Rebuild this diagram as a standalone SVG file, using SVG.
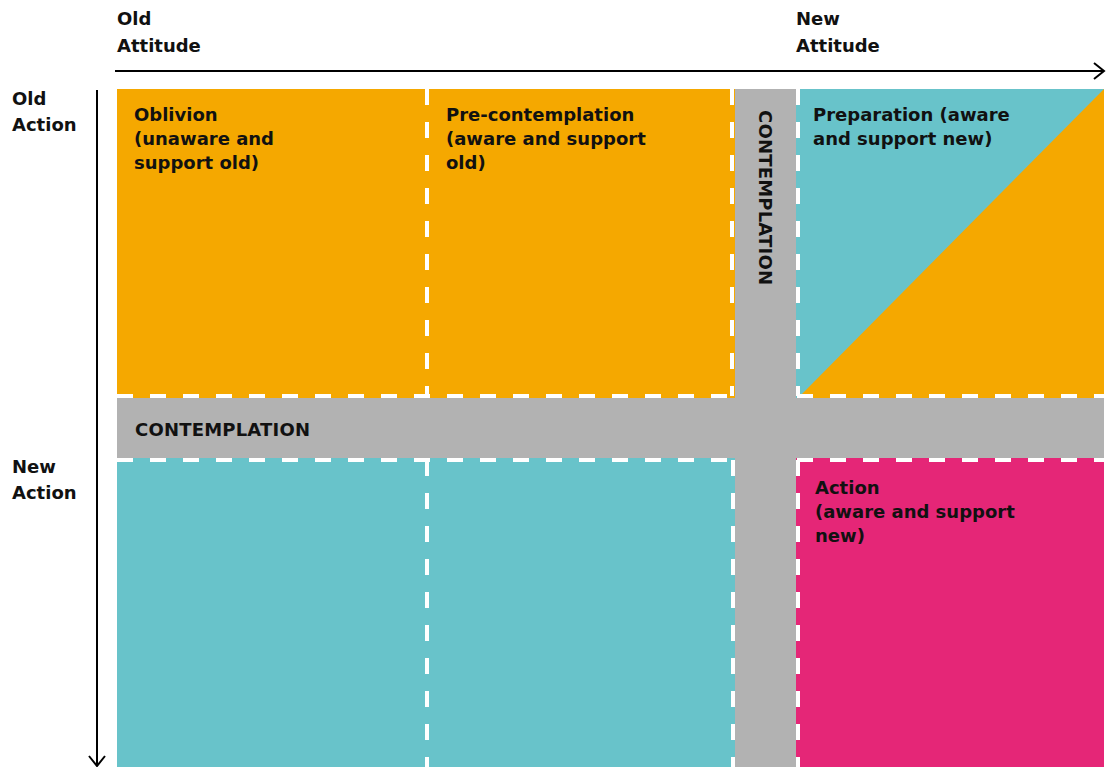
<svg xmlns="http://www.w3.org/2000/svg" width="1111" height="767" viewBox="0 0 1111 767">
<style>
.t{font-family:"DejaVu Sans",sans-serif;font-weight:bold;font-size:18px;fill:#111}
.c{font-family:"DejaVu Sans",sans-serif;font-weight:bold;font-size:18px;letter-spacing:0.2px;fill:#111}
.d{stroke:#fff;stroke-width:4;stroke-dasharray:16 17;fill:none}
.ax{stroke:#000;stroke-width:2;fill:none}
</style>
<defs>
<marker id="ah" markerWidth="14" markerHeight="20" refX="12" refY="10" orient="auto" markerUnits="userSpaceOnUse">
<path d="M2,2 L12,10 L2,18" fill="none" stroke="#000" stroke-width="2"/>
</marker>
</defs>
<rect width="1111" height="767" fill="#fff"/>
<g id="oblivion">
<rect x="117" y="89" width="310" height="309" fill="#F5A800"/>
<text class="t" x="134" y="121">Oblivion</text>
<text class="t" x="134" y="145">(unaware and</text>
<text class="t" x="134" y="169">support old)</text>
</g>
<g id="precontemplation">
<rect x="427" y="89" width="308" height="309" fill="#F5A800"/>
<text class="t" x="446" y="121">Pre-contemplation</text>
<text class="t" x="446" y="145">(aware and support</text>
<text class="t" x="446" y="169">old)</text>
</g>
<g id="newattitude-oldaction-bottom">
<rect x="117" y="458" width="618" height="309" fill="#68C3CA"/>
</g>
<g id="contemplation-h">
<rect x="117" y="398" width="987" height="60" fill="#B2B2B2"/>
<text class="c" x="135" y="436">CONTEMPLATION</text>
</g>
<g id="contemplation-v">
<rect x="735" y="89" width="61" height="678" fill="#B2B2B2"/>
<text class="c" transform="translate(759,110) rotate(90)">CONTEMPLATION</text>
</g>
<g id="preparation">
<rect x="796" y="89" width="308" height="309" fill="#F5A800"/>
<polygon points="796,89 1104,89 798,398 796,398" fill="#68C3CA"/>
<text class="t" x="813" y="121">Preparation (aware</text>
<text class="t" x="813" y="145">and support new)</text>
</g>
<g id="action">
<rect x="796" y="458" width="308" height="309" fill="#E52677"/>
<text class="t" x="815" y="494">Action</text>
<text class="t" x="815" y="518">(aware and support</text>
<text class="t" x="815" y="542">new)</text>
</g>
<g id="dashes">
<line class="d" x1="117" y1="396" x2="733" y2="396"/>
<line class="d" x1="797" y1="396" x2="1104" y2="396"/>
<line class="d" x1="117" y1="460" x2="733" y2="460"/>
<line class="d" x1="797" y1="460" x2="1104" y2="460"/>
<line class="d" x1="427" y1="89" x2="427" y2="396"/>
<line class="d" x1="427" y1="460" x2="427" y2="767"/>
<line class="d" x1="732" y1="89" x2="732" y2="396"/>
<line class="d" x1="733" y1="460" x2="733" y2="767"/>
<line class="d" x1="798" y1="89" x2="798" y2="396"/>
<line class="d" x1="798" y1="460" x2="798" y2="767"/>
</g>
<g id="labels">
<text class="t" x="117" y="25">Old</text>
<text class="t" x="117" y="52">Attitude</text>
<text class="t" x="796" y="25">New</text>
<text class="t" x="796" y="52">Attitude</text>
<text class="t" x="12" y="105">Old</text>
<text class="t" x="12" y="131">Action</text>
<text class="t" x="12" y="473">New</text>
<text class="t" x="12" y="499">Action</text>
</g>
<g id="connectors">
<line class="ax" x1="115" y1="71" x2="1104" y2="71" marker-end="url(#ah)"/>
<line class="ax" x1="97" y1="90" x2="97" y2="766" marker-end="url(#ah)"/>
</g>
</svg>
